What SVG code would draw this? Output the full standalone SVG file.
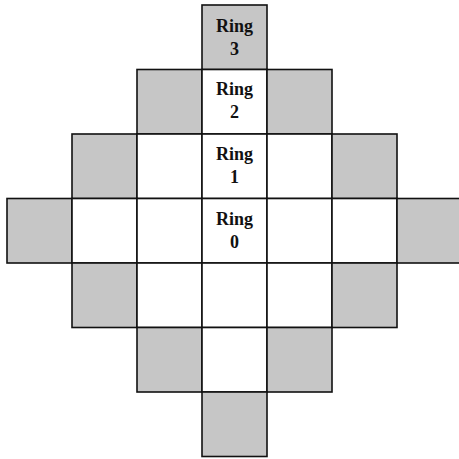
<svg xmlns="http://www.w3.org/2000/svg" width="459" height="459" viewBox="0 0 459 459">
<style>
.g{fill:#c6c6c6;stroke:#111;stroke-width:1.6}
.w{fill:#fff;stroke:#111;stroke-width:1.6}
text{font-family:"Liberation Serif","Times New Roman",serif;font-weight:bold;font-size:18px;fill:#111;text-anchor:middle}
</style>
<rect width="459" height="459" fill="#fff"/>
<g id="row0">
<g id="ring3"><rect class="g" x="202" y="5" width="65" height="64.5"/><text x="234.5" y="32">Ring</text><text x="234.5" y="55">3</text></g>
</g>
<g id="row1">
<g id="r1c2"><rect class="g" x="137" y="69.5" width="65" height="64.5"/></g>
<g id="ring2"><rect class="w" x="202" y="69.5" width="65" height="64.5"/><text x="234.5" y="95">Ring</text><text x="234.5" y="118">2</text></g>
<g id="r1c4"><rect class="g" x="267" y="69.5" width="65" height="64.5"/></g>
</g>
<g id="row2">
<g id="r2c1"><rect class="g" x="72" y="134" width="65" height="64.5"/></g>
<g id="r2c2"><rect class="w" x="137" y="134" width="65" height="64.5"/></g>
<g id="ring1"><rect class="w" x="202" y="134" width="65" height="64.5"/><text x="234.5" y="160">Ring</text><text x="234.5" y="183">1</text></g>
<g id="r2c4"><rect class="w" x="267" y="134" width="65" height="64.5"/></g>
<g id="r2c5"><rect class="g" x="332" y="134" width="65" height="64.5"/></g>
</g>
<g id="row3">
<g id="r3c0"><rect class="g" x="7" y="198.5" width="65" height="64.5"/></g>
<g id="r3c1"><rect class="w" x="72" y="198.5" width="65" height="64.5"/></g>
<g id="r3c2"><rect class="w" x="137" y="198.5" width="65" height="64.5"/></g>
<g id="ring0"><rect class="w" x="202" y="198.5" width="65" height="64.5"/><text x="234.5" y="224.5">Ring</text><text x="234.5" y="247.5">0</text></g>
<g id="r3c4"><rect class="w" x="267" y="198.5" width="65" height="64.5"/></g>
<g id="r3c5"><rect class="w" x="332" y="198.5" width="65" height="64.5"/></g>
<g id="r3c6"><rect class="g" x="397" y="198.5" width="65" height="64.5"/></g>
</g>
<g id="row4">
<g id="r4c1"><rect class="g" x="72" y="263" width="65" height="64.5"/></g>
<g id="r4c2"><rect class="w" x="137" y="263" width="65" height="64.5"/></g>
<g id="r4c3"><rect class="w" x="202" y="263" width="65" height="64.5"/></g>
<g id="r4c4"><rect class="w" x="267" y="263" width="65" height="64.5"/></g>
<g id="r4c5"><rect class="g" x="332" y="263" width="65" height="64.5"/></g>
</g>
<g id="row5">
<g id="r5c2"><rect class="g" x="137" y="327.5" width="65" height="64.5"/></g>
<g id="r5c3"><rect class="w" x="202" y="327.5" width="65" height="64.5"/></g>
<g id="r5c4"><rect class="g" x="267" y="327.5" width="65" height="64.5"/></g>
</g>
<g id="row6">
<g id="r6c3"><rect class="g" x="202" y="392" width="65" height="64.5"/></g>
</g>
<g id="connectors"></g>
</svg>
